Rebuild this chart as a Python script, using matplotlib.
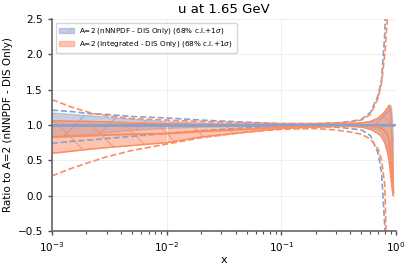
import matplotlib
matplotlib.use("Agg")
import matplotlib.pyplot as plt

plt.rcParams["hatch.linewidth"] = 0.6

# x grid of the curves
x = [1e-3, 1.5e-3, 2.2e-3, 3e-3, 5e-3, 1e-2, 2e-2, 5e-2, 0.1, 0.2, 0.3, 0.4,
     0.5, 0.6, 0.7, 0.75, 0.8, 0.85, 0.87, 0.9, 0.92, 0.94, 0.95]

# nNNPDF (blue), ratio to itself
blue_cv = [1.0] * len(x)
blue_up = [1.17, 1.15, 1.13, 1.11, 1.08, 1.05, 1.03, 1.02, 1.01, 1.01, 1.01, 1.02,
           1.03, 1.05, 1.08, 1.11, 1.16, 1.22, 1.26, 1.28, 1.22, 1.0, 0.8]
blue_lo = [0.83, 0.85, 0.87, 0.89, 0.92, 0.95, 0.97, 0.98, 0.99, 0.99, 0.99, 0.99,
           0.98, 0.96, 0.92, 0.88, 0.8, 0.65, 0.55, 0.38, 0.2, 0.05, 0.0]
blue_sig_up = [1.21, 1.19, 1.16, 1.15, 1.12, 1.10, 1.07, 1.04, 1.02, 1.02, 1.03, 1.05,
               1.08, 1.18, 1.42, 1.65, 2.3, 4.0, 5.0, 6.0, 7.0, 8.0, 9.0]
blue_sig_lo = [0.74, 0.77, 0.79, 0.81, 0.84, 0.88, 0.92, 0.96, 0.98, 0.98, 0.97, 0.95,
               0.93, 0.85, 0.6, 0.32, -0.45, -2.0, -3.0, -4.0, -5.0, -6.0, -7.0]

# Integrated (orange)
orng_cv = [0.83, 0.84, 0.85, 0.86, 0.87, 0.88, 0.91, 0.94, 0.97, 0.99, 1.0, 1.0,
           1.0, 0.99, 0.97, 0.95, 0.92, 0.85, 0.78, 0.6, 0.4, 0.15, 0.05]
orng_up = [1.06, 1.055, 1.05, 1.045, 1.03, 1.02, 1.01, 1.0, 0.995, 1.0, 1.01, 1.02,
           1.03, 1.05, 1.1, 1.14, 1.19, 1.25, 1.28, 1.2, 0.9, 0.35, 0.05]
orng_lo = [0.6, 0.63, 0.66, 0.68, 0.71, 0.75, 0.83, 0.9, 0.95, 0.97, 0.98, 0.98,
           0.97, 0.94, 0.88, 0.83, 0.75, 0.6, 0.5, 0.3, 0.15, 0.03, 0.0]
orng_sig_up = [1.36, 1.25, 1.17, 1.13, 1.09, 1.07, 1.05, 1.03, 1.02, 1.02, 1.03, 1.04,
               1.07, 1.15, 1.38, 1.6, 2.0, 2.6, 3.5, 5.0, 6.0, 7.0, 8.0]
orng_sig_lo = [0.28, 0.39, 0.48, 0.55, 0.64, 0.73, 0.82, 0.9, 0.94, 0.95, 0.93, 0.9,
               0.87, 0.8, 0.66, 0.5, 0.15, -1.5, -2.5, -4.0, -5.0, -6.0, -7.0]

blue = "#8da0cb"
orng = "#fc8d62"

fig = plt.figure(figsize=(4.12, 2.68), dpi=100)
ax = fig.add_axes([0.126, 0.138, 0.835, 0.791])

ax.fill_between(x, blue_lo, blue_up, facecolor=blue, edgecolor=blue, alpha=0.5,
                hatch="/", lw=1,
                label=r"A=2 (nNNPDF - DIS Only) (68% c.l.+1$\sigma$)")
# stronger hatch lines on top
ax.fill_between(x, blue_lo, blue_up, facecolor="none", edgecolor=blue, alpha=0.7,
                hatch="/", lw=0)
ax.plot(x, blue_cv, color=blue, lw=2)
ax.plot(x, blue_sig_up, color=blue, lw=1.2, ls="--")
ax.plot(x, blue_sig_lo, color=blue, lw=1.2, ls="--")

ax.fill_between(x, orng_lo, orng_up, facecolor=orng, edgecolor=orng, alpha=0.5,
                hatch="\\", lw=1,
                label=r"A=2 (Integrated - DIS Only) (68% c.l.+1$\sigma$)")
ax.fill_between(x, orng_lo, orng_up, facecolor="none", edgecolor=orng, alpha=0.7,
                hatch="\\", lw=0)
ax.plot(x, orng_up, color=orng, lw=1)
ax.plot(x, orng_lo, color=orng, lw=1)
ax.plot(x, orng_cv, color=orng, lw=1.5)
ax.plot(x, orng_sig_up, color=orng, lw=1.2, ls="--")
ax.plot(x, orng_sig_lo, color=orng, lw=1.2, ls="--")

# nNNPDF central line runs over the full range
ax.axhline(1.0, color=blue, lw=1.5)

ax.set_xscale("log")
ax.set_xlim(1e-3, 1)
ax.set_ylim(-0.5, 2.5)
ax.set_xlabel("x", fontsize=8, labelpad=1)
ax.set_ylabel("Ratio to A=2 (nNNPDF - DIS Only)", fontsize=7.5, labelpad=3)
ax.set_title("u at 1.65 GeV", fontsize=9.5, pad=4)
ax.tick_params(labelsize=7.5, direction="out", length=3, width=1, colors="0.3",
               labelcolor="black")
ax.tick_params(which="minor", length=1.8, width=0.8, colors="0.3")
ax.grid(True, color="0.93", lw=0.6)
for s in ["top", "right"]:
    ax.spines[s].set_visible(False)
for s in ["left", "bottom"]:
    ax.spines[s].set_color("0.4")
    ax.spines[s].set_linewidth(1.2)

ax.legend(loc="upper left", fontsize=5.2, frameon=True, handlelength=2.0,
          borderpad=0.5, labelspacing=0.4)

fig.savefig("out.png", dpi=100)
